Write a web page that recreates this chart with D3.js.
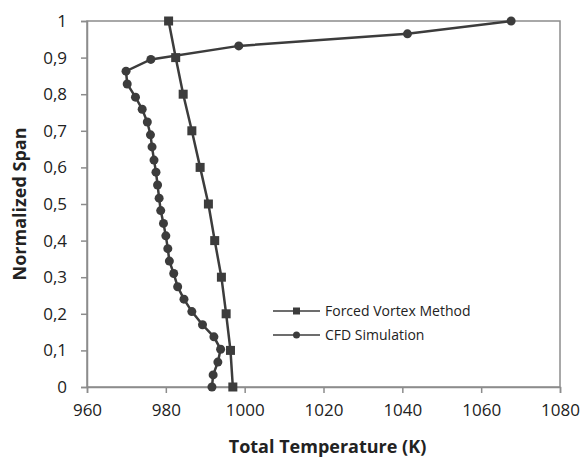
<!DOCTYPE html>
<html>
<head>
<meta charset="utf-8">
<script src="https://cdn.jsdelivr.net/npm/d3@7"></script>
<style>
  body { margin: 0; background: #fff; }
  svg text { font-family: "Open Sans", sans-serif; fill: #222; }
</style>
</head>
<body>
<svg id="grafico"></svg>
<script>
// Forced vortex method
const vortexTemp = [997.0, 996.4, 995.3, 994.1, 992.4, 990.8, 988.7, 986.6, 984.4, 982.5, 980.7];
const vortexSpan = [0, 0.1, 0.2, 0.3, 0.4, 0.5, 0.6, 0.7, 0.8, 0.9, 1.0];

// CFD simulation
const cfdTemp = [991.7, 992.0, 993.2, 993.9, 992.2, 989.3, 986.6, 984.6, 983.0, 982.0,
                 980.9, 980.5, 980.0, 979.4, 978.7, 978.3, 977.9, 977.5, 977.0, 976.5,
                 976.1, 975.3, 974.0, 972.3, 970.2, 969.9, 976.2, 998.5, 1041.3, 1067.6];
const cfdSpan = [0, 0.033, 0.068, 0.103, 0.137, 0.170, 0.206, 0.240, 0.274, 0.310,
                 0.344, 0.378, 0.413, 0.447, 0.482, 0.516, 0.552, 0.587, 0.620, 0.656,
                 0.689, 0.724, 0.759, 0.792, 0.828, 0.863, 0.895, 0.932, 0.965, 1.0];

const xTicks = [960, 980, 1000, 1020, 1040, 1060, 1080];
const yTicks = [0, 0.1, 0.2, 0.3, 0.4, 0.5, 0.6, 0.7, 0.8, 0.9, 1];
const serieNames = ['Forced Vortex Method', 'CFD Simulation'];

const ancho = 583;
const alto = 457;
const margen = { left: 87, top: 21, right: 23, bottom: 70 };
const ancho_g = ancho - margen.left - margen.right;
const alto_g = alto - margen.top - margen.bottom;
const colorLinea = '#3c3c3c';
const colorEje = '#8c8c8c';

const svg = d3.select('#grafico').attr('width', ancho).attr('height', alto);

const escalaX = d3.scaleLinear().domain([960, 1080]).range([0, ancho_g]);
const escalaY = d3.scaleLinear().domain([0, 1]).range([alto_g, 0]);

const g = svg.append('g')
    .attr('transform', 'translate(' + margen.left + ',' + margen.top + ')');

// marco derecho / superior
g.append('rect')
    .attr('x', 0).attr('y', 0)
    .attr('width', ancho_g).attr('height', alto_g)
    .attr('fill', 'none')
    .attr('stroke', colorEje)
    .attr('stroke-width', 1.5);

const ejeX = d3.axisBottom(escalaX).tickValues(xTicks).tickSize(6).tickPadding(11)
    .tickFormat(d3.format('d'));
g.append('g')
    .attr('transform', 'translate(0,' + alto_g + ')')
    .call(ejeX)
    .call(function (s) {
        s.selectAll('path, line').attr('stroke', colorEje).attr('stroke-width', 1.5);
        s.selectAll('text').style('font-size', '17px').attr('fill', '#1e1e1e');
    });

const ejeY = d3.axisLeft(escalaY).tickValues(yTicks).tickSize(6).tickPadding(14)
    .tickFormat(function (d) { return String(d3.format('.1~f')(d)).replace('.', ','); });
g.append('g')
    .call(ejeY)
    .call(function (s) {
        s.selectAll('path, line').attr('stroke', colorEje).attr('stroke-width', 1.5);
        s.selectAll('text').style('font-size', '17px').attr('fill', '#1e1e1e');
    });

const linea = d3.line()
    .x(function (d) { return escalaX(d[0]); })
    .y(function (d) { return escalaY(d[1]); });

const vortexData = vortexTemp.map(function (t, i) { return [t, vortexSpan[i]]; });
const cfdData = cfdTemp.map(function (t, i) { return [t, cfdSpan[i]]; });

g.append('path')
    .attr('d', linea(vortexData))
    .attr('fill', 'none').attr('stroke', colorLinea).attr('stroke-width', 2.5);
g.append('path')
    .attr('d', linea(cfdData))
    .attr('fill', 'none').attr('stroke', colorLinea).attr('stroke-width', 2.5);

g.selectAll('rect.sq')
    .data(vortexData).enter()
    .append('rect')
    .attr('class', 'sq')
    .attr('x', function (d) { return escalaX(d[0]) - 4.5; })
    .attr('y', function (d) { return escalaY(d[1]) - 4.5; })
    .attr('width', 9).attr('height', 9)
    .attr('fill', colorLinea);

g.selectAll('circle.pt')
    .data(cfdData).enter()
    .append('circle')
    .attr('class', 'pt')
    .attr('cx', function (d) { return escalaX(d[0]); })
    .attr('cy', function (d) { return escalaY(d[1]); })
    .attr('r', 4.5)
    .attr('fill', colorLinea);

// leyenda
const leyenda = svg.append('g').attr('transform', 'translate(273,311)');
serieNames.forEach(function (nombre, i) {
    const fila = leyenda.append('g').attr('transform', 'translate(0,' + (i * 24) + ')');
    fila.append('line')
        .attr('x1', 0).attr('x2', 47).attr('y1', 0).attr('y2', 0)
        .attr('stroke', colorLinea).attr('stroke-width', 1.5);
    if (i === 0) {
        fila.append('rect').attr('x', 20).attr('y', -3.5).attr('width', 7).attr('height', 7)
            .attr('fill', colorLinea);
    } else {
        fila.append('circle').attr('cx', 23.5).attr('cy', 0).attr('r', 3.5)
            .attr('fill', colorLinea);
    }
    fila.append('text')
        .attr('x', 52).attr('y', 0).attr('dy', '0.35em')
        .style('font-size', '14px')
        .attr('fill', '#1a2a55')
        .text(nombre);
});

// titulos de ejes
svg.append('text')
    .attr('x', margen.left + ancho_g / 2 + 4)
    .attr('y', 453)
    .attr('text-anchor', 'middle')
    .style('font-size', '18px')
    .style('font-weight', 'bold')
    .attr('fill', '#111')
    .text('Total Temperature (K)');

svg.append('text')
    .attr('transform', 'translate(26,' + (margen.top + alto_g / 2) + ') rotate(-90)')
    .attr('text-anchor', 'middle')
    .style('font-size', '18px')
    .style('font-weight', 'bold')
    .attr('fill', '#111')
    .text('Normalized Span');
</script>
</body>
</html>
